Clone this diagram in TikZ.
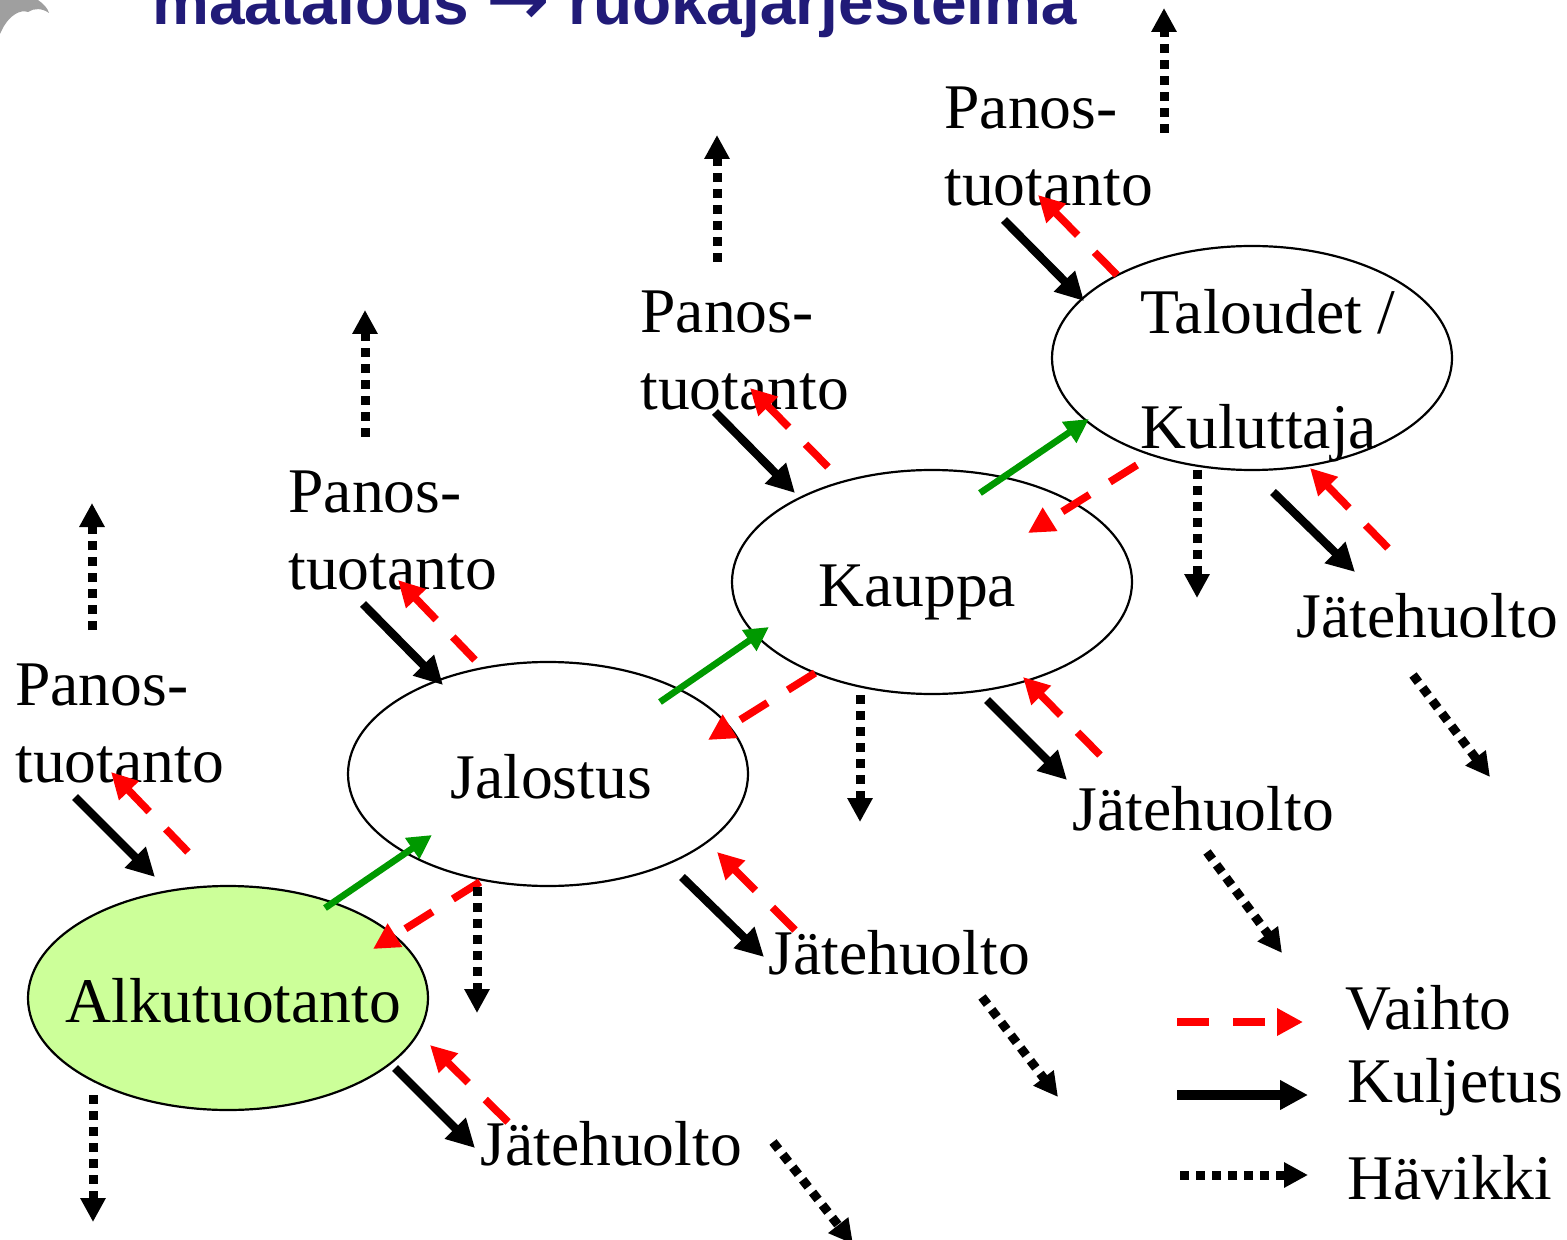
\documentclass[tikz,border=0pt]{standalone}
\usepackage{fontspec}
\setmainfont{Liberation Serif}
\newfontfamily\titlefont{Liberation Sans}
\newfontfamily\arrowfont{DejaVu Sans}
\usetikzlibrary{arrows.meta,shapes.geometric}

\definecolor{titleblue}{RGB}{33,27,120}
\definecolor{alkugreen}{RGB}{204,255,153}
\definecolor{flowgreen}{RGB}{0,153,0}

\begin{document}
\begin{tikzpicture}[x=0.5pt, y=-0.5pt,
	every node/.style={font=\fontsize{31.8}{38.5}\selectfont, inner sep=0pt},
	stage/.style={draw, ellipse, line width=1.1pt, minimum width=200pt, minimum height=112pt},
	lbl/.style={anchor=base west, align=left},
	kuljetus/.style={line width=4.2pt, -{Triangle[length=14pt, width=14pt]}},
	vaihto/.style={red, line width=3.8pt, dash pattern=on 16pt off 12pt, -{Triangle[length=13pt, width=13pt]}},
	havikki/.style={line width=4.5pt, dash pattern=on 4.5pt off 3.5pt, -{Triangle[length=12pt, width=12pt]}},
	virta/.style={flowgreen, line width=3.3pt, -{Triangle[length=12pt, width=12pt]}}]

		\useasboundingbox (0,0) rectangle (1567,1240);

		% Title and logo (cut off at the top)
		\fill[gray!75] (0,0) -- (38,0) .. controls (44,4) and (48,9) .. (49,13)
			.. controls (42,8) and (34,8) .. (28,12) .. controls (20,9) and (10,16) .. (4,26) -- (0,34) -- cycle;
		\node[anchor=base west, font=\titlefont\bfseries\fontsize{32}{38}\selectfont, text=titleblue]
			(otsikko) at (152,25) {maatalous {\arrowfont\bfseries\fontsize{38}{38}\selectfont →} ruokajärjestelmä};

		% Draw the stages
		\node[stage, fill=alkugreen] (alku) at (228,998) {};
		\node[stage] (jalo) at (548,774) {};
		\node[stage] (kauppa) at (932,582) {};
		\node[stage] (talo) at (1252,358) {};

		\node[lbl] (alkutxt) at (65,1022) {Alkutuotanto};
		\node[lbl] (jalotxt) at (450,798) {Jalostus};
		\node[lbl] (kauppatxt) at (818,606) {Kauppa};
		\node[lbl, font=\fontsize{31.8}{57.5}\selectfont] (talotxt) at (1140,449) {Taloudet /\\Kuluttaja};

		% Panos- and jate labels (base = last line)
		\node[lbl] (panos1) at (15,782) {Panos-\\tuotanto};
		\node[lbl] (panos2) at (288,589) {Panos-\\tuotanto};
		\node[lbl] (panos3) at (640,410) {Panos-\\tuotanto};
		\node[lbl] (panos4) at (944,206) {Panos-\\tuotanto};

		\node[lbl] (jate1) at (480,1165) {Jätehuolto};
		\node[lbl] (jate2) at (768,974) {Jätehuolto};
		\node[lbl] (jate3) at (1072,830) {Jätehuolto};
		\node[lbl] (jate4) at (1296,637) {Jätehuolto};

		% Arrow ends round Alkutuotanto
		\coordinate (aIn1) at (75,797);    \coordinate (aIn2) at (155,877);
		\coordinate (aBack1) at (188,852); \coordinate (aBack2) at (111,772);
		\coordinate (aPLoss1) at (92,630); \coordinate (aPLoss2) at (92,503);
		\coordinate (aLoss1) at (93,1095); \coordinate (aLoss2) at (93,1222);
		\coordinate (aOut1) at (395,1068); \coordinate (aOut2) at (475,1148);
		\coordinate (aJBack1) at (508,1122); \coordinate (aJBack2) at (430,1045);
		\coordinate (aJLoss1) at (773,1142); \coordinate (aJLoss2) at (853,1244);
		\coordinate (aFwd1) at (325,908);  \coordinate (aFwd2) at (432,835);
		\coordinate (aPay1) at (480,882);  \coordinate (aPay2) at (373,949);

		% Arrow ends round Jalostus
		\coordinate (jIn1) at (363,604);   \coordinate (jIn2) at (443,685);
		\coordinate (jBack1) at (475,660); \coordinate (jBack2) at (398,580);
		\coordinate (jPLoss1) at (365,437); \coordinate (jPLoss2) at (365,310);
		\coordinate (jLoss1) at (477,887); \coordinate (jLoss2) at (477,1013);
		\coordinate (jOut1) at (682,877);  \coordinate (jOut2) at (764,957);
		\coordinate (jJBack1) at (795,930); \coordinate (jJBack2) at (717,852);
		\coordinate (jJLoss1) at (982,997); \coordinate (jJLoss2) at (1058,1097);
		\coordinate (jFwd1) at (660,702);  \coordinate (jFwd2) at (769,627);
		\coordinate (jPay1) at (815,673);  \coordinate (jPay2) at (708,740);

		% Arrow ends round Kauppa
		\coordinate (kIn1) at (715,412);   \coordinate (kIn2) at (795,493);
		\coordinate (kBack1) at (828,467); \coordinate (kBack2) at (750,388);
		\coordinate (kPLoss1) at (717,262); \coordinate (kPLoss2) at (717,135);
		\coordinate (kLoss1) at (860,695); \coordinate (kLoss2) at (860,822);
		\coordinate (kOut1) at (987,700);  \coordinate (kOut2) at (1067,780);
		\coordinate (kJBack1) at (1100,755); \coordinate (kJBack2) at (1023,677);
		\coordinate (kJLoss1) at (1207,852); \coordinate (kJLoss2) at (1282,953);
		\coordinate (kFwd1) at (980,493);  \coordinate (kFwd2) at (1089,419);
		\coordinate (kPay1) at (1137,465); \coordinate (kPay2) at (1028,533);

		% Arrow ends round Taloudet
		\coordinate (tIn1) at (1004,220);  \coordinate (tIn2) at (1084,301);
		\coordinate (tBack1) at (1117,275); \coordinate (tBack2) at (1038,195);
		\coordinate (tPLoss1) at (1164,133); \coordinate (tPLoss2) at (1164,8);
		\coordinate (tLoss1) at (1197,470); \coordinate (tLoss2) at (1197,598);
		\coordinate (tOut1) at (1273,492); \coordinate (tOut2) at (1355,572);
		\coordinate (tJBack1) at (1388,548); \coordinate (tJBack2) at (1310,468);
		\coordinate (tJLoss1) at (1413,675); \coordinate (tJLoss2) at (1490,777);

		% Kuljetus
		\draw[kuljetus] (aIn1) -- (aIn2);
		\draw[kuljetus] (aOut1) -- (aOut2);
		\draw[kuljetus] (jIn1) -- (jIn2);
		\draw[kuljetus] (jOut1) -- (jOut2);
		\draw[kuljetus] (kIn1) -- (kIn2);
		\draw[kuljetus] (kOut1) -- (kOut2);
		\draw[kuljetus] (tIn1) -- (tIn2);
		\draw[kuljetus] (tOut1) -- (tOut2);

		% Vaihto
		\draw[vaihto] (aBack1) -- (aBack2);
		\draw[vaihto] (aJBack1) -- (aJBack2);
		\draw[vaihto] (aPay1) -- (aPay2);
		\draw[vaihto] (jBack1) -- (jBack2);
		\draw[vaihto] (jJBack1) -- (jJBack2);
		\draw[vaihto] (jPay1) -- (jPay2);
		\draw[vaihto] (kBack1) -- (kBack2);
		\draw[vaihto] (kJBack1) -- (kJBack2);
		\draw[vaihto] (kPay1) -- (kPay2);
		\draw[vaihto] (tBack1) -- (tBack2);
		\draw[vaihto] (tJBack1) -- (tJBack2);

		% Havikki
		\draw[havikki] (aPLoss1) -- (aPLoss2);
		\draw[havikki] (aLoss1) -- (aLoss2);
		\draw[havikki] (aJLoss1) -- (aJLoss2);
		\draw[havikki] (jPLoss1) -- (jPLoss2);
		\draw[havikki] (jLoss1) -- (jLoss2);
		\draw[havikki] (jJLoss1) -- (jJLoss2);
		\draw[havikki] (kPLoss1) -- (kPLoss2);
		\draw[havikki] (kLoss1) -- (kLoss2);
		\draw[havikki] (kJLoss1) -- (kJLoss2);
		\draw[havikki] (tPLoss1) -- (tPLoss2);
		\draw[havikki] (tLoss1) -- (tLoss2);
		\draw[havikki] (tJLoss1) -- (tJLoss2);

		% Flow along the chain
		\draw[virta] (aFwd1) -- (aFwd2);
		\draw[virta] (jFwd1) -- (jFwd2);
		\draw[virta] (kFwd1) -- (kFwd2);

		% Legend
		\node[lbl] (vaihto) at (1345,1029) {Vaihto};
		\node[lbl] (kuljetus) at (1347,1102) {Kuljetus};
		\node[lbl] (havikki) at (1347,1199) {Hävikki};
		\coordinate (lv1) at (1177,1022); \coordinate (lv2) at (1303,1022);
		\coordinate (lk1) at (1177,1095); \coordinate (lk2) at (1308,1095);
		\coordinate (lh1) at (1180,1175); \coordinate (lh2) at (1308,1175);
		\draw[vaihto] (lv1) -- (lv2);
		\draw[kuljetus, line width=5pt] (lk1) -- (lk2);
		\draw[havikki] (lh1) -- (lh2);
	\end{tikzpicture}
\end{document}
